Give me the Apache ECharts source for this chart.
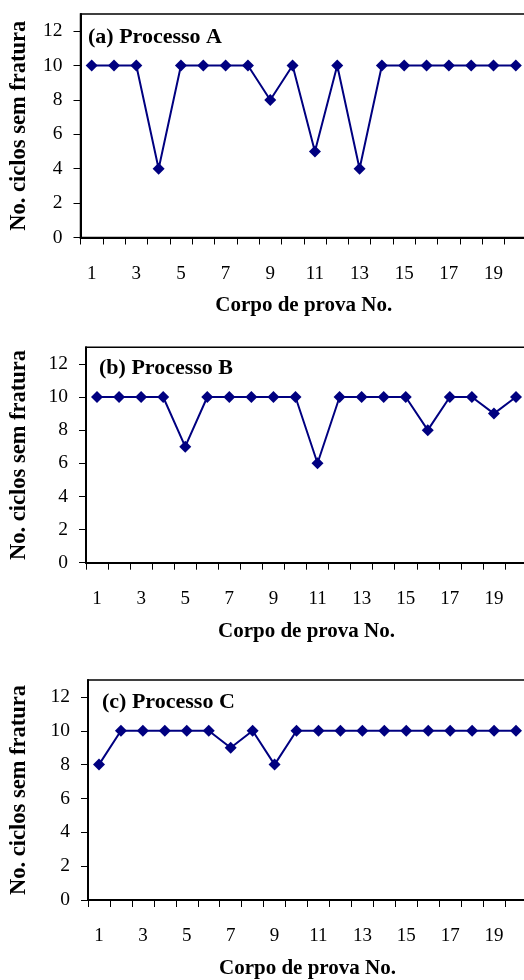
<!DOCTYPE html>
<html>
<head>
<meta charset="utf-8">
<script src="https://cdn.jsdelivr.net/npm/echarts@6/dist/echarts.min.js"></script>
<style>
  html, body { margin: 0; padding: 0; background: #fff; }
  #chart { width: 524px; height: 980px; }
</style>
</head>
<body>
<div id="chart"></div>
<script>
const categories = ['1','2','3','4','5','6','7','8','9','10','11','12','13','14','15','16','17','18','19','20'];
const processoA = [10,10,10,4,10,10,10,10,8,10,5,10,4,10,10,10,10,10,10,10];
const processoB = [10,10,10,10,7,10,10,10,10,10,6,10,10,10,10,8,10,10,9,10];
const processoC = [8,10,10,10,10,10,9,10,8,10,10,10,10,10,10,10,10,10,10,10];
const yTicks = [0,2,4,6,8,10,12];
const panelTitles = ['(a) Processo A', '(b) Processo B', '(c) Processo C'];
const xTitle = 'Corpo de prova No.';
const yTitle = 'No. ciclos sem fratura';

const seriesData = [processoA, processoB, processoC];
const FONT = "'Liberation Serif', 'Times New Roman', serif";

const grids = [
  { left: 80.5, top: 14, width: 446.5, height: 223.5 },
  { left: 86, top: 347.3, width: 441, height: 215.4 },
  { left: 88, top: 680, width: 439, height: 220 }
];
const titlePos = [
  { x: 88, y: 37 },
  { x: 99, y: 368 },
  { x: 102, y: 702 }
];

const option = {
  animation: false,
  backgroundColor: '#fff',
  grid: grids.map(g => Object.assign({
    show: true, borderColor: '#000', borderWidth: 1.5,
    containLabel: false, outerBoundsMode: 'none'
  }, g)),
  xAxis: grids.map((g, i) => ({
    type: 'category',
    gridIndex: i,
    data: categories,
    boundaryGap: true,
    name: xTitle,
    nameLocation: 'middle',
    nameGap: 58,
    nameTextStyle: { fontFamily: FONT, fontWeight: 'bold', fontSize: 21, color: '#000' },
    axisLine: { show: true, lineStyle: { color: '#000', width: 2 } },
    axisTick: { show: true, interval: 0, length: 7, lineStyle: { color: '#000', width: 1 } },
    axisLabel: { interval: 1, margin: 27, fontFamily: FONT, fontSize: 19, color: '#000' },
    splitLine: { show: false }
  })),
  yAxis: grids.map((g, i) => ({
    type: 'value',
    gridIndex: i,
    min: 0,
    max: 13,
    interval: 2,
    name: yTitle,
    nameLocation: 'middle',
    nameRotate: 90,
    nameGap: [49.5, 55, 57][i],
    nameTextStyle: { fontFamily: FONT, fontWeight: 'bold', fontSize: 22.5, color: '#000' },
    axisLine: { show: true, lineStyle: { color: '#000', width: 2 } },
    axisTick: { show: true, length: 7, customValues: yTicks, lineStyle: { color: '#000', width: 1 } },
    axisLabel: { margin: 18, customValues: yTicks, fontFamily: FONT, fontSize: 19.5, color: '#000' },
    splitLine: { show: false }
  })),
  series: seriesData.map((d, i) => ({
    type: 'line',
    xAxisIndex: i,
    yAxisIndex: i,
    data: d,
    symbol: 'diamond',
    symbolSize: 12,
    itemStyle: { color: '#000080' },
    lineStyle: { color: '#000080', width: 2 }
  })),
  graphic: panelTitles.map((t, i) => ({
    type: 'text',
    x: titlePos[i].x,
    y: titlePos[i].y,
    style: {
      text: t,
      fill: '#000',
      font: "bold 22px " + FONT,
      verticalAlign: 'middle',
      align: 'left'
    }
  }))
};

const chart = echarts.init(document.getElementById('chart'), null, { renderer: 'canvas' });
chart.setOption(option);
</script>
</body>
</html>
